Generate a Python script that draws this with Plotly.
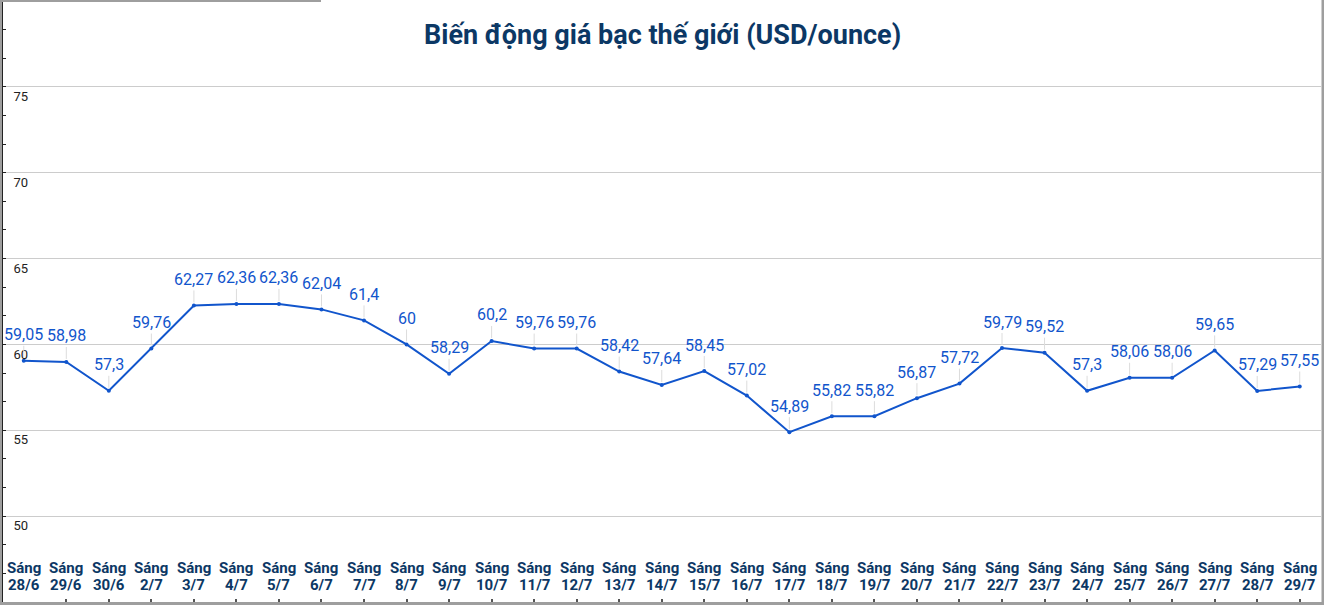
import plotly.graph_objects as go

dates = ["28/6", "29/6", "30/6", "2/7", "3/7", "4/7", "5/7", "6/7", "7/7", "8/7",
         "9/7", "10/7", "11/7", "12/7", "13/7", "14/7", "15/7", "16/7", "17/7", "18/7",
         "19/7", "20/7", "21/7", "22/7", "23/7", "24/7", "25/7", "26/7", "27/7", "28/7", "29/7"]
prices = [59.05, 58.98, 57.3, 59.76, 62.27, 62.36, 62.36, 62.04, 61.4, 60,
          58.29, 60.2, 59.76, 59.76, 58.42, 57.64, 58.45, 57.02, 54.89, 55.82,
          55.82, 56.87, 57.72, 59.79, 59.52, 57.3, 58.06, 58.06, 59.65, 57.29, 57.55]
y_ticks = [50, 55, 60, 65, 70, 75]

categories = ["Sáng " + d for d in dates]
labels = [("%g" % v).replace(".", ",") for v in prices]

W, H = 1324, 605
BLUE = "#1155cc"
NAVY = "#0c3865"

fig = go.Figure()
fig.add_trace(go.Scatter(
    x=categories, y=prices, mode="lines+markers",
    line=dict(color=BLUE, width=2),
    marker=dict(color=BLUE, size=4),
    hoverinfo="skip", showlegend=False,
))

for c, v, t in zip(categories, prices, labels):
    fig.add_annotation(
        x=c, y=v, xref="x", yref="y", text=t,
        showarrow=True, arrowhead=0, arrowwidth=1, arrowcolor="#dcdcdc",
        ax=0, ay=-26, standoff=3,
        font=dict(family="Roboto", size=16, color=BLUE),
    )

# category labels (two lines, drawn inside the plot area like the original)
for c, d in zip(categories, dates):
    fig.add_annotation(
        x=c, y=(H - 568) / H, xref="x", yref="paper", text="<b>Sáng</b>",
        showarrow=False, xanchor="center", yanchor="middle",
        font=dict(family="Roboto", size=15, color=NAVY),
    )
    fig.add_annotation(
        x=c, y=(H - 585) / H, xref="x", yref="paper", text="<b>" + d + "</b>",
        showarrow=False, xanchor="center", yanchor="middle",
        font=dict(family="Roboto", size=15, color=NAVY),
    )

fig.add_annotation(
    x=0.5, y=(H - 35) / H, xref="paper", yref="paper",
    text="<b>Biến động giá bạc thế giới (USD/ounce)</b>", showarrow=False,
    font=dict(family="Roboto", size=27, color=NAVY),
    xanchor="center", yanchor="middle",
)

# frame borders
border = "#9e9e9e"
fig.add_shape(type="rect", xref="paper", yref="paper", x0=0, x1=2 / W, y0=0, y1=1,
              fillcolor=border, line_width=0, layer="above")
fig.add_shape(type="rect", xref="paper", yref="paper", x0=(W - 2.5) / W, x1=1, y0=0, y1=1,
              fillcolor=border, line_width=0, layer="above")
fig.add_shape(type="rect", xref="paper", yref="paper", x0=0, x1=1, y0=0, y1=3 / H,
              fillcolor=border, line_width=0, layer="above")
fig.add_shape(type="rect", xref="paper", yref="paper", x0=0, x1=321 / W, y0=(H - 2) / H, y1=1,
              fillcolor=border, line_width=0, layer="above")

fig.update_layout(
    width=W, height=H,
    margin=dict(l=0, r=0, t=0, b=0, pad=0),
    paper_bgcolor="white", plot_bgcolor="white",
    font=dict(family="Roboto"),
    xaxis=dict(
        type="category", domain=[2.5 / W, (W - 3) / W], range=[-0.5, len(dates) - 0.5],
        showgrid=False, showline=False, zeroline=False,
        ticks="inside", ticklen=3, tickcolor="#555", tickwidth=1.5,
        showticklabels=False,
        fixedrange=True,
    ),
    yaxis=dict(
        domain=[3 / H, (H - 1) / H], range=[45, 80],
        tickmode="array", tickvals=y_ticks, ticktext=[str(v) for v in y_ticks],
        showgrid=True, gridcolor="#cccccc", gridwidth=1,
        showline=True, linecolor="#222", linewidth=1.5, zeroline=False,
        ticks="inside", ticklen=4, tickcolor="#222",
        ticklabelposition="inside bottom", ticklabelstandoff=10,
        tickfont=dict(family="Roboto", size=13, color="#222"),
        minor=dict(tickmode="linear", tick0=50, dtick=5 / 3, ticks="inside",
                   ticklen=4, tickcolor="#222", showgrid=False),
        fixedrange=True,
    ),
)

fig.write_html("out.html")
